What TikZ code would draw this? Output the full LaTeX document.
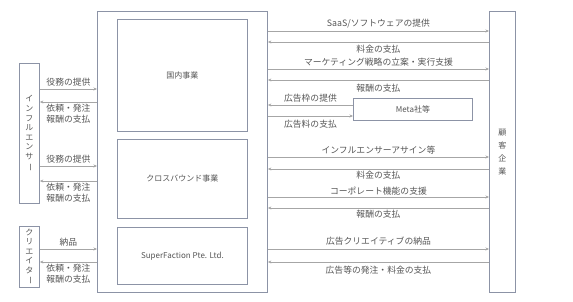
\documentclass[tikz,border=0pt]{standalone}
\usepackage{fontspec}
\setmainfont{Noto Sans CJK JP}
\usetikzlibrary{arrows.meta}
\definecolor{bordc}{HTML}{8C93A6}
\definecolor{arrc}{HTML}{A6A6A6}
\definecolor{txtc}{HTML}{555555}
\newcommand{\vbar}{\rotatebox[origin=c]{-90}{ー}}
\tikzset{
  box/.style={draw=bordc, line width=0.9pt, anchor=north west, inner sep=0pt, text=txtc, font=\fontsize{8}{9}\selectfont},
  arr/.style={draw=arrc, line width=0.9pt, -{Stealth[length=3.5pt,width=3pt]}},
  lab/.style={text=txtc, font=\fontsize{8.8}{10.5}\selectfont, inner sep=0pt, align=center},
}
\begin{document}
\begin{tikzpicture}[x=1pt,y=-1pt]
\useasboundingbox (0,0) rectangle (573,302);
% boxes
\node[box, minimum width=170pt, minimum height=281pt] (grp) at (97,11) {};
\node[box, minimum width=130pt, minimum height=112pt] (dom) at (117,19) {国内事業};
\node[box, minimum width=130pt, minimum height=79pt] (cross) at (117,139) {クロスバウンド事業};
\node[box, minimum width=130pt, minimum height=57pt] (sf) at (117,227) {SuperFaction Pte. Ltd.};
\node[box, minimum width=20pt, minimum height=140pt, align=center, font=\fontsize{8}{9.6}\selectfont] (inf) at (19,63) {イ\\ン\\フ\\ル\\エ\\ン\\サ\\\vbar};
\node[box, minimum width=20pt, minimum height=61pt, align=center, font=\fontsize{8}{9.4}\selectfont] (cre) at (19,226) {ク\\リ\\エ\\イ\\タ\\\vbar};
\node[box, minimum width=26pt, minimum height=281pt, align=center, font=\fontsize{8}{13}\selectfont] (cust) at (489,11) {顧\\客\\企\\業};
\node[box, minimum width=119pt, minimum height=22pt] (meta) at (353,98) {Meta社等};
% right side arrows
\draw[arr] (grp.east |- 0,31) -- node[lab, above=2.5pt] {SaaS/ソフトウェアの提供} (cust.west |- 0,31);
\draw[arr] (cust.west |- 0,42) -- node[lab, below=2.5pt] {料金の支払} (grp.east |- 0,42);
\draw[arr] (grp.east |- 0,69) -- node[lab, above=2pt] {マーケティング戦略の立案・実行支援} (cust.west |- 0,69);
\draw[arr] (cust.west |- 0,80) -- node[lab, below=3.5pt] {報酬の支払} (grp.east |- 0,80);
\draw[arr] (meta.west |- 0,105) -- node[lab, above=2.5pt] {広告枠の提供} (grp.east |- 0,105);
\draw[arr] (grp.east |- 0,116) -- node[lab, below=3.5pt] {広告料の支払} (meta.west |- 0,116);
\draw[arr] (grp.east |- 0,157) -- node[lab, above=2.5pt] {インフルエンサーアサイン等} (cust.west |- 0,157);
\draw[arr] (cust.west |- 0,169) -- node[lab, below=1.5pt] {料金の支払} (grp.east |- 0,169);
\draw[arr] (grp.east |- 0,197) -- node[lab, above=1.5pt] {コーポレート機能の支援} (cust.west |- 0,197);
\draw[arr] (cust.west |- 0,208) -- node[lab, below=1.5pt] {報酬の支払} (grp.east |- 0,208);
\draw[arr] (grp.east |- 0,249) -- node[lab, above=3.5pt] {広告クリエイティブの納品} (cust.west |- 0,249);
\draw[arr] (cust.west |- 0,262) -- node[lab, below=3.5pt] {広告等の発注・料金の支払} (grp.east |- 0,262);
% left side arrows
\draw[arr] (inf.east |- 0,89) -- node[lab, above=2.5pt] {役務の提供} (grp.west |- 0,89);
\draw[arr] (grp.west |- 0,102) -- node[lab, below=2pt] {依頼・発注\\報酬の支払} (inf.east |- 0,102);
\draw[arr] (inf.east |- 0,166) -- node[lab, above=2.5pt] {役務の提供} (grp.west |- 0,166);
\draw[arr] (grp.west |- 0,181) -- node[lab, below=2pt] {依頼・発注\\報酬の支払} (inf.east |- 0,181);
\draw[arr] (cre.east |- 0,249) -- node[lab, above=2.5pt] {納品} (grp.west |- 0,249);
\draw[arr] (grp.west |- 0,262) -- node[lab, below=2pt] {依頼・発注\\報酬の支払} (cre.east |- 0,262);
\end{tikzpicture}
\end{document}
